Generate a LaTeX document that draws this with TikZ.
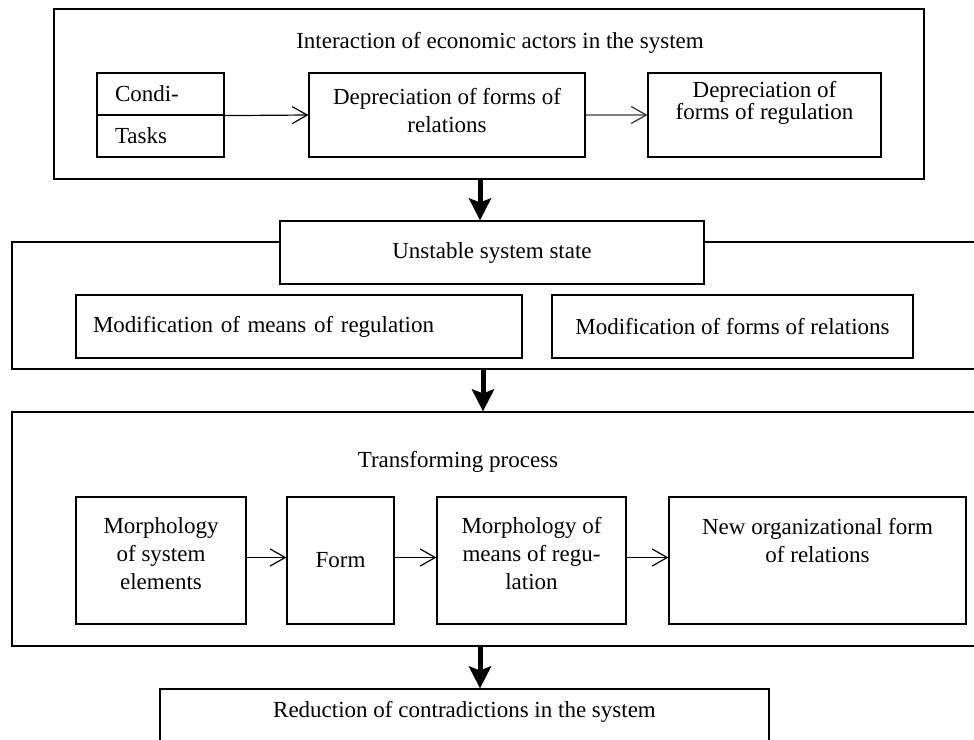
\documentclass[tikz,border=0pt]{standalone}
\usepackage{fontspec}
\setmainfont{Liberation Serif}
\usetikzlibrary{arrows.meta,positioning}
\newcommand\boxfont{\fontsize{23}{28}\selectfont}
\newcommand\tightfont{\fontsize{23}{22}\selectfont}
\tikzset{
  box/.style={draw, line width=1.2pt, fill=white, inner sep=0pt, align=center, font=\boxfont},
  txt/.style={inner sep=0pt, align=center, font=\boxfont},
  bigarrow/.style={line width=5pt, -{Stealth[length=22pt,width=22pt,inset=4pt]}},
  barb/.style={line width=1.2pt, -{Straight Barb[length=15pt,width=17pt]}}
}

\begin{document}
\begin{tikzpicture}[x=1pt,y=-1pt]
  \useasboundingbox (0,0) rectangle (974,739);
  \clip (0,0) rectangle (974,739);
  % interaction of actors
  \node[box, minimum width=870pt, minimum height=170pt] (act) at (489,94) {};
  \node[txt] (actt) at (500,43) {Interaction of economic actors in the system};
  \node[box, minimum width=127pt, minimum height=42pt, text width=91pt, align=left] (cond) at (160.5,94) {Condi-};
  \node[box, minimum width=127pt, minimum height=42pt, text width=91pt, align=left] (tasks) at (160.5,136) {Tasks};
  \node[box, minimum width=276pt, minimum height=84pt] (deprel) at (447,115) {};
  \node[txt] (deprelt) at ([yshift=4pt]deprel) {Depreciation of forms of\\relations};
  \node[box, minimum width=233pt, minimum height=84pt] (depreg) at (764.5,115) {};
  \node[txt, font=\tightfont] (depregt) at ([yshift=12pt]depreg) {Depreciation of\\forms of regulation};
  \draw[barb] (cond.south east) -- (deprel.west);
  \draw[line width=1.2pt, draw=black!50, -{Straight Barb[length=15pt,width=17pt,color=black!80]}] (deprel.east) -- (depreg.west);

  % unstable state
  \node[box, minimum width=978pt, minimum height=127pt] (lvl2) at (501,305.5) {};
  \node[box, minimum width=424pt, minimum height=63pt] (state) at (492,252.5) {Unstable system state};
  \node[box, minimum width=446pt, minimum height=63pt, text width=412pt, align=left] (modmeans) at (299,326.5) {Modification of means of regulation};
  \node[box, minimum width=361pt, minimum height=63pt] (modforms) at (732.5,326.5) {Modification of forms of relations};

  % transforming process
  \node[box, minimum width=978pt, minimum height=234pt] (lvl3) at (501,529) {};
  \node[txt] (tp) at (458,462) {Transforming process};
  \node[box, minimum width=170pt, minimum height=127pt] (morph) at (161,560.5) {};
  \node[txt] (morpht) at ([yshift=7pt]morph) {Morphology\\of system\\elements};
  \node[box, minimum width=107pt, minimum height=127pt] (form) at (340.5,560.5) {Form};
  \node[box, minimum width=189pt, minimum height=127pt] (mmr) at (531.5,560.5) {};
  \node[txt] (mmrt) at ([yshift=7pt]mmr) {Morphology of\\means of regu-\\lation};
  \node[box, minimum width=297pt, minimum height=127pt] (neworg) at (817.5,560.5) {};
  \node[txt] (neworgt) at ([yshift=20pt]neworg) {New organizational form\\of relations};
  \draw[barb] ([yshift=3pt]morph.east) -- ([yshift=3pt]form.west);
  \draw[barb] ([yshift=3pt]form.east) -- ([yshift=3pt]mmr.west);
  \draw[barb] ([yshift=3pt]mmr.east) -- ([yshift=3pt]neworg.west);

  % result
  \node[box, minimum width=609pt, minimum height=80pt] (red) at (464.5,729) {};
  \node[txt] (redt) at (464.5,712) {Reduction of contradictions in the system};

  % main flow
  \coordinate (ax) at (480,0);
  \coordinate (bx) at (483,0);
  \draw[bigarrow] (ax |- act.south) -- (ax |- state.north);
  \draw[bigarrow] (bx |- lvl2.south) -- (bx |- lvl3.north);
  \draw[bigarrow] (ax |- lvl3.south) -- (ax |- red.north);
\end{tikzpicture}
\end{document}
